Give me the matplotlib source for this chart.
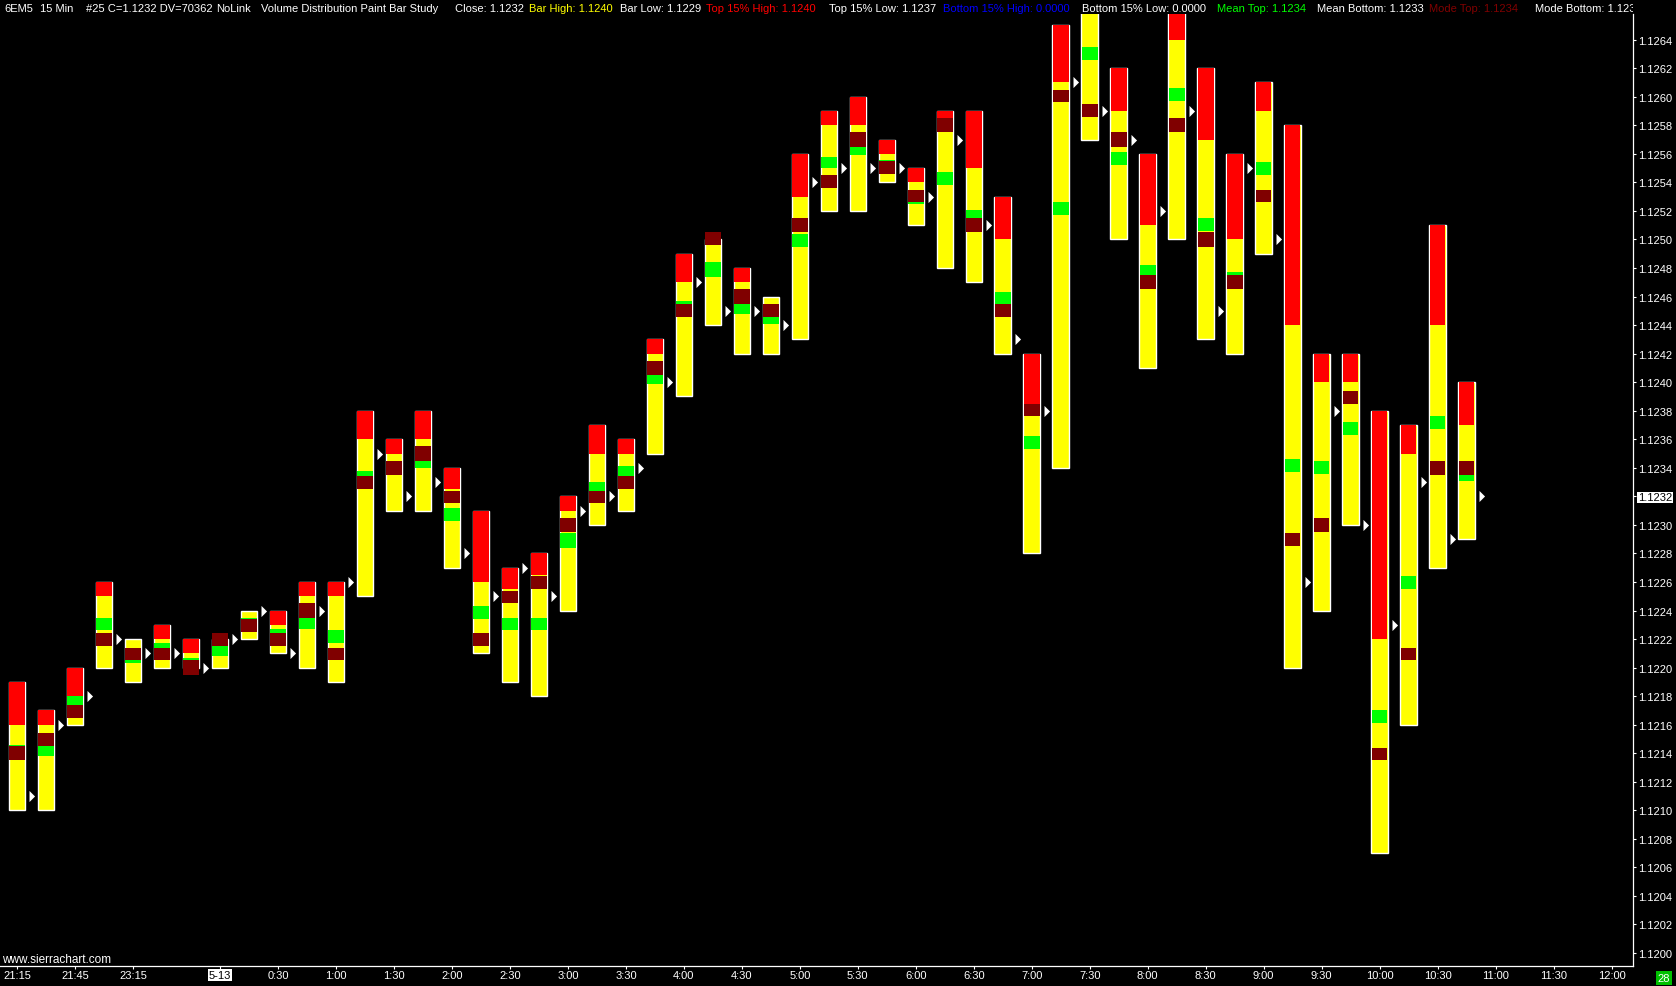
import numpy as np
import matplotlib.pyplot as plt

# -------------------------------------------------------
# Data: 15 min bars of 6EM5 with volume distribution study
# -------------------------------------------------------

highs = [1.12190, 1.12170, 1.12200, 1.12260, 1.12220, 1.12230, 1.12220, 1.12220, 1.12240, 1.12240,
         1.12260, 1.12260, 1.12380, 1.12360, 1.12380, 1.12340, 1.12310, 1.12270, 1.12280, 1.12320,
         1.12370, 1.12360, 1.12430, 1.12490, 1.12500, 1.12480, 1.12460, 1.12560, 1.12590, 1.12600,
         1.12570, 1.12550, 1.12590, 1.12590, 1.12530, 1.12420, 1.12650, 1.12670, 1.12620, 1.12560,
         1.12670, 1.12620, 1.12560, 1.12610, 1.12580, 1.12420, 1.12420, 1.12380, 1.12370, 1.12510,
         1.12400]
lows = [1.12100, 1.12100, 1.12160, 1.12200, 1.12190, 1.12200, 1.12200, 1.12200, 1.12220, 1.12210,
        1.12200, 1.12190, 1.12250, 1.12310, 1.12310, 1.12270, 1.12210, 1.12190, 1.12180, 1.12240,
        1.12300, 1.12310, 1.12350, 1.12390, 1.12440, 1.12420, 1.12420, 1.12430, 1.12520, 1.12520,
        1.12540, 1.12510, 1.12480, 1.12470, 1.12420, 1.12280, 1.12340, 1.12570, 1.12500, 1.12410,
        1.12500, 1.12430, 1.12420, 1.12490, 1.12200, 1.12240, 1.12300, 1.12070, 1.12160, 1.12270,
        1.12290]
top15_low = [1.12160, 1.12160, 1.12180, 1.12250, 1.12220, 1.12220, 1.12210, 1.12215, 1.12240, 1.12230,
             1.12250, 1.12250, 1.12360, 1.12350, 1.12360, 1.12325, 1.12260, 1.12255, 1.12265, 1.12310,
             1.12350, 1.12350, 1.12420, 1.12470, 1.12496, 1.12470, 1.12460, 1.12530, 1.12580, 1.12580,
             1.12560, 1.12540, 1.12585, 1.12550, 1.12500, 1.12385, 1.12610, 1.12660, 1.12590, 1.12510,
             1.12640, 1.12570, 1.12500, 1.12590, 1.12440, 1.12400, 1.12400, 1.12220, 1.12350, 1.12440,
             1.12370]
mean_top = [1.12146, 1.12145, 1.12180, 1.12235, 1.12210, 1.12217, 1.12207, 1.12215, 1.12235, 1.12227,
            1.12235, 1.12226, 1.12338, 1.12344, 1.12346, 1.12312, 1.12243, 1.12235, 1.12235, 1.12294,
            1.12330, 1.12341, 1.12405, 1.12457, 1.12484, 1.12455, 1.12446, 1.12504, 1.12558, 1.12565,
            1.12556, 1.12530, 1.12547, 1.12521, 1.12463, 1.12362, 1.12526, 1.12635, 1.12561, 1.12482,
            1.12606, 1.12515, 1.12477, 1.12554, 1.12346, 1.12345, 1.12372, 1.12170, 1.12264, 1.12376,
            1.12340]
mean_bottom = [1.12140, 1.12138, 1.12174, 1.12226, 1.12203, 1.12212, 1.12203, 1.12208, 1.12230, 1.12220,
               1.12227, 1.12217, 1.12330, 1.12336, 1.12340, 1.12303, 1.12234, 1.12226, 1.12226, 1.12284,
               1.12323, 1.12334, 1.12399, 1.12450, 1.12474, 1.12448, 1.12441, 1.12495, 1.12550, 1.12559,
               1.12550, 1.12525, 1.12538, 1.12515, 1.12455, 1.12353, 1.12517, 1.12626, 1.12552, 1.12474,
               1.12597, 1.12506, 1.12470, 1.12545, 1.12337, 1.12336, 1.12363, 1.12161, 1.12255, 1.12367,
               1.12331]
mode_top = [1.12145, 1.12154, 1.12174, 1.12224, 1.12214, 1.12214, 1.12205, 1.12224, 1.12234, 1.12224,
            1.12245, 1.12214, 1.12334, 1.12345, 1.12355, 1.12324, 1.12224, 1.12254, 1.12264, 1.12305,
            1.12324, 1.12334, 1.12415, 1.12455, 1.12505, 1.12465, 1.12455, 1.12515, 1.12545, 1.12575,
            1.12555, 1.12535, 1.12585, 1.12515, 1.12455, 1.12385, 1.12605, 1.12595, 1.12575, 1.12475,
            1.12585, 1.12505, 1.12475, 1.12535, 1.12294, 1.12305, 1.12394, 1.12144, 1.12214, 1.12345,
            1.12345]
mode_bottom = [1.12135, 1.12145, 1.12165, 1.12215, 1.12205, 1.12205, 1.12195, 1.12215, 1.12225, 1.12215,
               1.12235, 1.12205, 1.12325, 1.12335, 1.12345, 1.12315, 1.12215, 1.12245, 1.12255, 1.12295,
               1.12315, 1.12325, 1.12405, 1.12446, 1.12496, 1.12455, 1.12446, 1.12505, 1.12536, 1.12565,
               1.12546, 1.12526, 1.12575, 1.12505, 1.12446, 1.12376, 1.12596, 1.12586, 1.12565, 1.12465,
               1.12575, 1.12495, 1.12465, 1.12526, 1.12285, 1.12295, 1.12385, 1.12135, 1.12205, 1.12335,
               1.12335]
closes = [1.12110, 1.12160, 1.12180, 1.12220, 1.12210, 1.12210, 1.12200, 1.12220, 1.12240, 1.12210,
          1.12240, 1.12260, 1.12350, 1.12320, 1.12330, 1.12280, 1.12250, 1.12270, 1.12250, 1.12310,
          1.12320, 1.12340, 1.12400, 1.12470, 1.12450, 1.12450, 1.12440, 1.12540, 1.12550, 1.12550,
          1.12550, 1.12530, 1.12570, 1.12510, 1.12430, 1.12380, 1.12610, 1.12590, 1.12570, 1.12520,
          1.12590, 1.12450, 1.12550, 1.12500, 1.12260, 1.12380, 1.12300, 1.12230, 1.12330, 1.12290,
          1.12320]

time_labels = ['21:15', '21:45', '23:15', '5-13', '0:30', '1:00', '1:30', '2:00', '2:30', '3:00',
               '3:30', '4:00', '4:30', '5:00', '5:30', '6:00', '6:30', '7:00', '7:30', '8:00',
               '8:30', '9:00', '9:30', '10:00', '10:30', '11:00', '11:30', '12:00']
time_label_bars = [0, 2, 4, 7, 9, 11, 13, 15, 17, 19, 21, 23, 25, 27, 29, 31, 33, 35, 37, 39,
                   41, 43, 45, 47, 49, 51, 53, 55]

last_price = 1.1232

header = [
    ('6EM5', 'white', 4), ('15 Min', 'white', 40), ('#25 C=1.1232 DV=70362', 'white', 86),
    ('NoLink', 'white', 216), ('Volume Distribution Paint Bar Study', 'white', 261),
    ('Close: 1.1232', 'white', 455), ('Bar High: 1.1240', '#FFFF00', 529),
    ('Bar Low: 1.1229', 'white', 620), ('Top 15% High: 1.1240', '#FF0000', 706),
    ('Top 15% Low: 1.1237', 'white', 829), ('Bottom 15% High: 0.0000', '#0000FF', 943),
    ('Bottom 15% Low: 0.0000', 'white', 1082), ('Mean Top: 1.1234', '#00FF00', 1217),
    ('Mean Bottom: 1.1233', 'white', 1317), ('Mode Top: 1.1234', '#800000', 1429),
    ('Mode Bottom: 1.1233', 'white', 1535),
]

# -------------------------------------------------------
# Figure layout (pixel based, black Sierra Chart look)
# -------------------------------------------------------

W, H = 1676, 987
DPI = 100
plt.rcParams['font.family'] = ['Liberation Sans', 'DejaVu Sans']

fig = plt.figure(figsize=(W / DPI, H / DPI), dpi=DPI, facecolor='black')
ax = fig.add_axes([0, 20 / H, 1633 / W, 952 / H])
ax.set_facecolor('black')

x = np.arange(len(highs))
hi = np.array(highs)
lo = np.array(lows)
t15 = np.array(top15_low)
mt = np.array(mean_top)
mb = np.array(mean_bottom)
mot = np.array(mode_top)
mob = np.array(mode_bottom)

# yellow body, red top 15%, green mean, dark red mode
ax.bar(x, hi - lo, bottom=lo, width=0.57, color='#FFFF00', edgecolor='white', linewidth=1.0, zorder=2)
ax.bar(x, hi - t15, bottom=t15, width=0.54, color='#FF0000', linewidth=0, zorder=3)
ax.bar(x, mt - mb, bottom=mb, width=0.54, color='#00FF00', linewidth=0, zorder=4)
ax.bar(x, mot - mob, bottom=mob, width=0.54, color='#800000', linewidth=0, zorder=5)

# close marker: small white triangle right of the bar
ax.scatter(x + 0.42, closes, marker=[(0, -1), (0, 1), (1, 0)], s=64,
           color='white', linewidths=0, zorder=6)

ax.set_xlim(-0.59, 55.74)
ax.set_ylim(1.119909, 1.126580)

for side in ['top', 'left']:
    ax.spines[side].set_visible(False)
for side in ['right', 'bottom']:
    ax.spines[side].set_color('white')
    ax.spines[side].set_linewidth(0.9)

# price axis on the right
price_ticks = np.round(np.arange(1.1200, 1.12641, 0.0002), 4)
ax.yaxis.tick_right()
ax.tick_params(axis='y', colors='white', length=2.2, width=0.8, pad=1.3, labelsize=8)
ax.set_yticks(price_ticks, [f'{p:.4f}' for p in price_ticks])

ax.tick_params(axis='x', colors='white', length=2.2, width=0.8, pad=0.6, labelsize=8)
ax.set_xticks(time_label_bars, time_labels)

for lbl in ax.get_yticklabels():
    if lbl.get_text() == f'{last_price:.4f}':
        lbl.set_color('black')
        lbl.set_bbox(dict(facecolor='white', edgecolor='none', pad=0.6))
for lbl in ax.get_xticklabels():
    if lbl.get_text() == '5-13':
        lbl.set_color('black')
        lbl.set_bbox(dict(facecolor='white', edgecolor='none', pad=0.8))

# header line with colored study values
hax = fig.add_axes([0, 1 - 15 / H, 1633 / W, 15 / H])
hax.set_facecolor('black')
hax.set_xticks([])
hax.set_yticks([])
for s in hax.spines.values():
    s.set_visible(False)
for txt, col, px in header:
    hax.text(px / 1633, 0.4, txt, color=col, fontsize=8, va='center', ha='left', clip_on=True)

fig.text(2 / W, 1 - 966 / H, 'www.sierrachart.com', color='white', fontsize=8.5,
         ha='left', va='bottom')
fig.text(1664 / W, 1 - 979 / H, '28', color='white', fontsize=8, ha='center', va='center',
         bbox=dict(facecolor='#00C000', edgecolor='none', pad=1.2))

fig.savefig('out.png', dpi=DPI, facecolor='black')
